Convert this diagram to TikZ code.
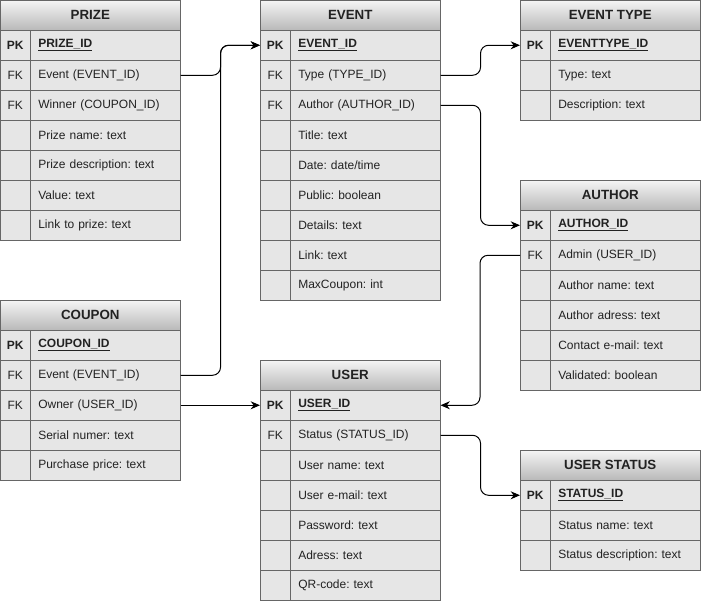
\documentclass[tikz,border=0pt]{standalone}
\usepackage{fontspec}
\setmainfont{Liberation Sans}
\usetikzlibrary{arrows.meta}
\frenchspacing

\definecolor{rowgray}{HTML}{E6E6E6}
\definecolor{linegray}{HTML}{666666}
\definecolor{headtop}{HTML}{F5F5F5}
\definecolor{headbot}{HTML}{B8B8B8}
\definecolor{txt}{HTML}{222222}

\tikzset{
  cell/.style={draw=linegray,fill=rowgray,inner sep=0pt,minimum height=22.5pt,anchor=north west,text=txt},
  keycell/.style={cell,minimum width=22.5pt},
  fieldcell/.style={cell,minimum width=112.5pt,inner xsep=6pt,text width=100.5pt,align=left},
  head/.style={draw=linegray,top color=headtop,bottom color=headbot,inner sep=0pt,
    minimum width=135pt,minimum height=22.5pt,anchor=north west,font=\bfseries,text=txt},
  link/.style={line width=0.75pt,rounded corners=6pt,-{Stealth[length=7pt,width=6pt]}}
}
% one row: name, x, y, key text, field text
\newcommand{\erow}[5]{%
  \node[keycell] (#1-k) at (#2,#3) {#4};
  \node[fieldcell] (#1) at (#2+30,#3) {#5};}
\newcommand{\pkrow}[4]{%
  \erow{#1}{#2}{#3}{\textbf{PK}}{\textbf{\underline{#4}}}
  \draw[line width=0.75pt] (#2,#3+30) -- (#2+180,#3+30);}

\begin{document}
\begin{tikzpicture}[x=0.75pt,y=-0.75pt,font=\fontsize{9}{11}\selectfont]
\useasboundingbox (0,0) rectangle (701,601);

% PRIZE
\node[head] (prize) at (0,0) {PRIZE};
\pkrow{prize-id}{0}{30}{PRIZE\_ID}
\erow{prize-event}{0}{60}{FK}{Event (EVENT\_ID)}
\erow{prize-winner}{0}{90}{FK}{Winner (COUPON\_ID)}
\erow{prize-name}{0}{120}{}{Prize name: text}
\erow{prize-descr}{0}{150}{}{Prize description: text}
\erow{prize-value}{0}{180}{}{Value: text}
\erow{prize-link}{0}{210}{}{Link to prize: text}

% EVENT
\node[head] (event) at (260,0) {EVENT};
\pkrow{event-id}{260}{30}{EVENT\_ID}
\erow{event-type}{260}{60}{FK}{Type (TYPE\_ID)}
\erow{event-author}{260}{90}{FK}{Author (AUTHOR\_ID)}
\erow{event-title}{260}{120}{}{Title: text}
\erow{event-date}{260}{150}{}{Date: date/time}
\erow{event-public}{260}{180}{}{Public: boolean}
\erow{event-details}{260}{210}{}{Details: text}
\erow{event-link}{260}{240}{}{Link: text}
\erow{event-max}{260}{270}{}{MaxCoupon: int}

% EVENT TYPE
\node[head] (etype) at (520,0) {EVENT TYPE};
\pkrow{etype-id}{520}{30}{EVENTTYPE\_ID}
\erow{etype-type}{520}{60}{}{Type: text}
\erow{etype-descr}{520}{90}{}{Description: text}

% AUTHOR
\node[head] (author) at (520,180) {AUTHOR};
\pkrow{author-id}{520}{210}{AUTHOR\_ID}
\erow{author-admin}{520}{240}{FK}{Admin (USER\_ID)}
\erow{author-name}{520}{270}{}{Author name: text}
\erow{author-adress}{520}{300}{}{Author adress: text}
\erow{author-mail}{520}{330}{}{Contact e-mail: text}
\erow{author-valid}{520}{360}{}{Validated: boolean}

% COUPON
\node[head] (coupon) at (0,300) {COUPON};
\pkrow{coupon-id}{0}{330}{COUPON\_ID}
\erow{coupon-event}{0}{360}{FK}{Event (EVENT\_ID)}
\erow{coupon-owner}{0}{390}{FK}{Owner (USER\_ID)}
\erow{coupon-serial}{0}{420}{}{Serial numer: text}
\erow{coupon-price}{0}{450}{}{Purchase price: text}

% USER
\node[head] (user) at (260,360) {USER};
\pkrow{user-id}{260}{390}{USER\_ID}
\erow{user-status}{260}{420}{FK}{Status (STATUS\_ID)}
\erow{user-name}{260}{450}{}{User name: text}
\erow{user-mail}{260}{480}{}{User e-mail: text}
\erow{user-pass}{260}{510}{}{Password: text}
\erow{user-adress}{260}{540}{}{Adress: text}
\erow{user-qr}{260}{570}{}{QR-code: text}

% USER STATUS
\node[head] (ustatus) at (520,450) {USER STATUS};
\pkrow{ustatus-id}{520}{480}{STATUS\_ID}
\erow{ustatus-name}{520}{510}{}{Status name: text}
\erow{ustatus-descr}{520}{540}{}{Status description: text}

% links
\draw[link] (prize-event.east) -- ++(40,0) |- (event-id-k.west);
\draw[link] (coupon-event.east) -- ++(40,0) |- (event-id-k.west);
\draw[link] (coupon-owner.east) -- (user-id-k.west);
\draw[link] (event-type.east) -- ++(40,0) |- (etype-id-k.west);
\draw[link] (event-author.east) -- ++(40,0) |- (author-id-k.west);
\draw[link] (author-admin-k.west) -- ++(-40,0) |- (user-id.east);
\draw[link] (user-status.east) -- ++(40,0) |- (ustatus-id-k.west);
\end{tikzpicture}
\end{document}
